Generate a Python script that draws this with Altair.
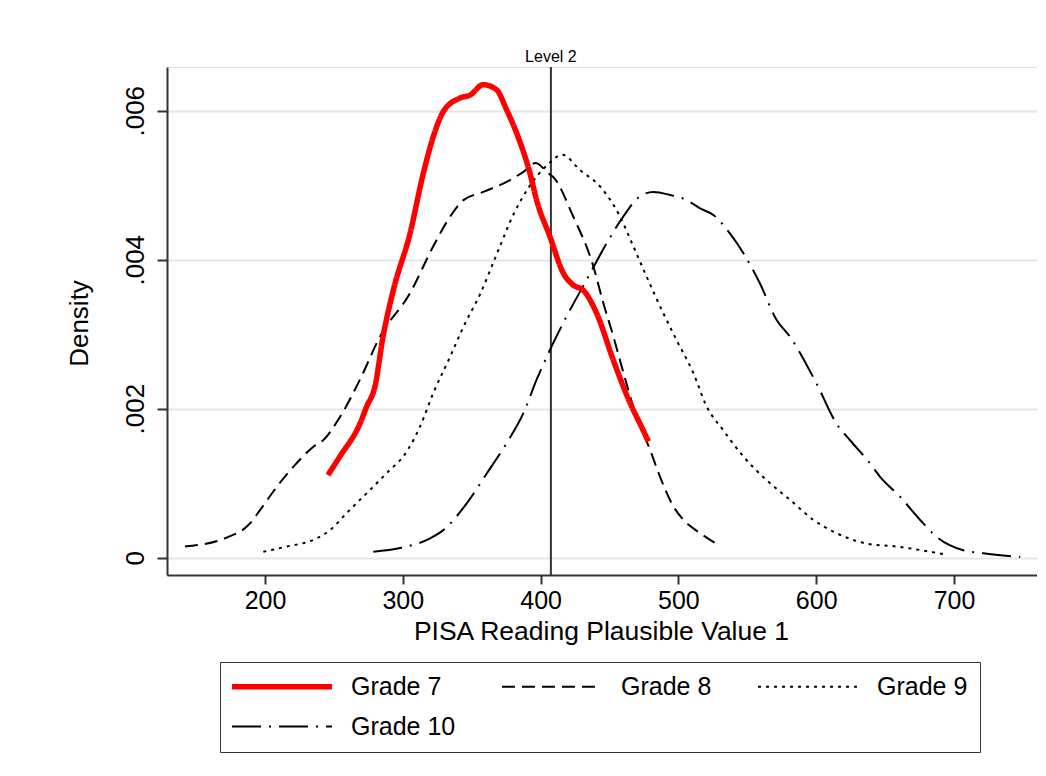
import altair as alt
import pandas as pd

# ---------------- data ----------------
grades = ["Grade 7", "Grade 8", "Grade 9", "Grade 10"]

g7_score = [245.7, 254.4, 268.9, 273.8, 279.8, 285.5, 293.1, 305.2, 314.9, 322.1,
            329.4, 341.5, 348.8, 358.4, 368.1, 375.4, 382.6, 392.3, 397.1, 406.8,
            416.5, 423.7, 431.0, 440.7, 452.8, 465.1, 472.1, 478.3]
g7_density = [0.00111, 0.00136, 0.00180, 0.00203, 0.00230, 0.00295, 0.00359, 0.00435, 0.00516, 0.00565,
              0.00599, 0.00617, 0.00621, 0.00635, 0.00628, 0.00601, 0.00570, 0.00516, 0.00480, 0.00431,
              0.00382, 0.00366, 0.00359, 0.00328, 0.00265, 0.00207, 0.00180, 0.00156]

g8_score = [141.9, 172.2, 189.1, 196.4, 208.5, 223.0, 235.1, 242.4, 254.4, 268.9,
            283.5, 305.2, 322.1, 334.4, 344.0, 358.4, 377.8, 387.5, 396.5, 405.6,
            409.2, 423.7, 438.3, 445.5, 452.8, 457.6, 469.7, 479.4, 486.6, 496.3,
            503.6, 515.7, 529.0]
g8_density = [0.00015, 0.00027, 0.00046, 0.00064, 0.00095, 0.00127, 0.00149, 0.00158, 0.00189, 0.00239,
              0.00297, 0.00355, 0.00418, 0.00458, 0.00480, 0.00491, 0.00507, 0.00518, 0.00530, 0.00516,
              0.00511, 0.00458, 0.00391, 0.00342, 0.00297, 0.00265, 0.00189, 0.00145, 0.00109, 0.00069,
              0.00051, 0.00033, 0.00017]

g9_score = [198.8, 215.7, 235.1, 247.2, 259.3, 276.2, 290.7, 300.4, 312.5, 322.1,
            334.4, 344.0, 356.4, 368.5, 380.6, 390.3, 404.8, 415.7, 428.8, 443.3,
            457.6, 467.3, 477.0, 489.1, 498.7, 510.8, 520.5, 532.6, 547.1, 564.1,
            580.8, 597.8, 614.7, 636.5, 658.3, 694.6]
g9_density = [0.00008, 0.00015, 0.00024, 0.00037, 0.00060, 0.00091, 0.00118, 0.00136, 0.00176, 0.00221,
              0.00270, 0.00310, 0.00355, 0.00409, 0.00462, 0.00494, 0.00527, 0.00541, 0.00520, 0.00498,
              0.00458, 0.00418, 0.00377, 0.00328, 0.00292, 0.00248, 0.00203, 0.00171, 0.00136, 0.00104,
              0.00078, 0.00051, 0.00033, 0.00019, 0.00015, 0.00004]

g10_score = [278.6, 298.0, 319.8, 329.4, 346.4, 360.9, 375.4, 387.5, 397.1, 406.8,
             418.9, 433.4, 447.9, 460.0, 472.1, 481.8, 493.9, 506.0, 515.7, 525.4,
             537.5, 547.1, 559.2, 571.3, 580.8, 600.2, 614.7, 624.4, 638.9, 646.2,
             660.8, 675.3, 687.4, 706.7, 721.2, 748.0]
g10_density = [0.00008, 0.00013, 0.00026, 0.00037, 0.00073, 0.00113, 0.00154, 0.00194, 0.00239, 0.00279,
               0.00324, 0.00373, 0.00422, 0.00458, 0.00485, 0.00491, 0.00487, 0.00480, 0.00469, 0.00460,
               0.00435, 0.00409, 0.00368, 0.00319, 0.00297, 0.00234, 0.00180, 0.00158, 0.00127, 0.00109,
               0.00082, 0.00051, 0.00028, 0.00010, 0.00006, 0.00001]

x_ticks = [200, 300, 400, 500, 600, 700]
y_ticks = [0, 0.002, 0.004, 0.006]
level2_score = 407.47
level2_label = "Level 2"

X_MIN, X_MAX = 128.88, 760.23
Y_MIN, Y_MAX = -0.000232, 0.006587

# build table (Grade 7 last so it is drawn on top)
rows = []
for g, xs, ys in [("Grade 8", g8_score, g8_density),
                  ("Grade 9", g9_score, g9_density),
                  ("Grade 10", g10_score, g10_density),
                  ("Grade 7", g7_score, g7_density)]:
    for xv, yv in zip(xs, ys):
        rows.append({"grade": g, "score": xv, "density": yv})
df = pd.DataFrame(rows)

ann = pd.DataFrame({"score": [level2_score], "density": [Y_MAX], "label": [level2_label]})

FONT = "Liberation Sans"

x_enc = alt.X(
    "score:Q",
    scale=alt.Scale(domain=[X_MIN, X_MAX], nice=False, zero=False),
    axis=alt.Axis(
        values=x_ticks, grid=False, tickSize=9, tickWidth=2, tickColor="#333",
        domainColor="#333", domainWidth=2, labelFontSize=25, labelFont=FONT,
        labelColor="black", labelPadding=4, titleFontSize=26.5, titleFont=FONT,
        titleColor="black", titleFontWeight="normal", titleBaseline="alphabetic",
        titleY=64, titleX=434, titleAlign="center", labelFlush=False,
    ),
    title="PISA Reading Plausible Value 1",
)
y_enc = alt.Y(
    "density:Q",
    scale=alt.Scale(domain=[Y_MIN, Y_MAX], nice=False, zero=False),
    axis=alt.Axis(
        values=y_ticks, grid=True, gridColor="#e6e6e6", gridWidth=2,
        tickSize=10, tickWidth=2, tickColor="#333", domainColor="#333", domainWidth=2,
        labelAngle=270, labelAlign="center", labelBaseline="alphabetic",
        labelPadding=14, labelFontSize=26, labelFont=FONT, labelColor="black",
        labelExpr="datum.value == 0 ? '0' : '.' + substring(format(datum.value, '.3f'), 2)",
        labelFlush=False,
        titleFontSize=26, titleFont=FONT, titleColor="black", titleFontWeight="normal",
        titleAngle=270, titleX=-80, titleY=256, titleAlign="center",
        titleBaseline="alphabetic",
    ),
    title="Density",
)

legend = alt.Legend(
    title=None, orient="none", legendX=53, legendY=595, columns=3,
    direction="horizontal",
    columnPadding=46, rowPadding=14, padding=12, gridAlign="each",
    strokeColor="#333", fillColor="white",
    labelFontSize=25, labelFont=FONT, labelColor="black", labelLimit=300,
    labelOffset=16, symbolType="stroke", symbolSize=10000, symbolOffset=-3,
    clipHeight=25, values=grades,
)

color = alt.Color("grade:N", sort=grades, scale=alt.Scale(domain=grades,
                  range=["#ff0000", "#000000", "#000000", "#000000"]), legend=legend)
dash = alt.StrokeDash("grade:N", sort=grades, scale=alt.Scale(domain=grades,
                      range=[[1, 0], [13, 7], [3, 5], [29, 8, 2, 8]]), legend=legend)
swidth = alt.StrokeWidth("grade:N", sort=grades, scale=alt.Scale(type="ordinal", domain=grades,
                         range=[5.5, 2, 2, 2]), legend=legend)

lines = alt.Chart(df).mark_line(interpolate="monotone").encode(
    x=x_enc, y=y_enc, color=color, strokeDash=dash, strokeWidth=swidth,
    detail="grade:N",
)

rule = alt.Chart(ann).mark_rule(color="#333", strokeWidth=2).encode(x=x_enc)

txt = alt.Chart(ann).mark_text(
    fontSize=16, font=FONT, color="black", align="center",
    baseline="alphabetic", dy=-5,
).encode(x=x_enc, y=y_enc, text="label:N")

chart = alt.layer(rule, lines, txt).properties(
    width=870, height=508,
    autosize=alt.AutoSizeParams(type="none"),
    padding={"left": 159, "top": 59, "right": 0, "bottom": 185},
    background="white",
).configure_view(stroke="transparent").configure(font=FONT)

chart.save("out.html", embed_options={"renderer": "svg", "actions": False})
